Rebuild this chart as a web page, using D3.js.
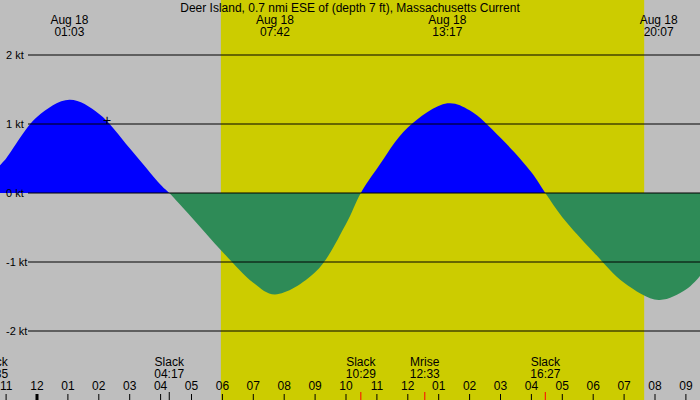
<!DOCTYPE html><html><head><script src="https://d3js.org/d3.v7.min.js"></script>
<style>body{margin:0}svg{display:block;font-family:"Liberation Sans",Arial,sans-serif}</style></head><body><svg id="c" width="700" height="400"></svg>
<script>
const hours=[-1.2,-1,0,1.05,2,3,4,4.28,5,6,7,7.7,9,10,10.48,11,12,13.28,14,15,16,16.45,17,18,19,20.12,21,21.46];
const knots=[0.4,0.5,1.1,1.35,1.15,0.65,0.12,0,-0.35,-0.85,-1.3,-1.47,-1.15,-0.45,0,0.35,0.95,1.3,1.2,0.8,0.3,0,-0.35,-0.85,-1.3,-1.55,-1.4,-1.2];
const yTicks=[2,1,0,-1,-2];
const hourLabels=["11","12","01","02","03","04","05","06","07","08","09","10","11","12","01","02","03","04","05","06","07","08","09"];
const topEvents=[{h:1.05,d:"Aug 18",t:"01:03"},{h:7.7,d:"Aug 18",t:"07:42"},{h:13.28,d:"Aug 18",t:"13:17"},{h:20.12,d:"Aug 18",t:"20:07"}];
const bottomEvents=[{h:-1.42,n:"Slack",t:"22:35",c:"#000"},{h:4.28,n:"Slack",t:"04:17",c:"#000"},{h:10.48,n:"Slack",t:"10:29",c:"red"},{h:12.55,n:"Mrise",t:"12:33",c:"red"},{h:16.45,n:"Slack",t:"16:27",c:"red"}];
const day=[5.95,19.65];
const svg=d3.select("#c");
const x=d3.scaleLinear().domain([0,1]).range([37,67.9]);
const y=d3.scaleLinear().domain([0,1]).range([193,124]);
svg.append("rect").attr("width",700).attr("height",400).attr("fill","#bebebe");
svg.append("rect").attr("x",x(day[0])).attr("y",0).attr("width",x(day[1])-x(day[0])).attr("height",400).attr("fill","#cccc00");
const pts=hours.map((h,i)=>[h,knots[i]]);
const defs=svg.append("defs");
defs.append("clipPath").attr("id","pos").append("rect").attr("x",0).attr("y",0).attr("width",700).attr("height",y(0));
defs.append("clipPath").attr("id","neg").append("rect").attr("x",0).attr("y",y(0)).attr("width",700).attr("height",400);
const area=d3.area().x(d=>x(d[0])).y0(y(0)).y1(d=>y(d[1])).curve(d3.curveCatmullRom);
svg.append("path").attr("d",area(pts)).attr("fill","#0000ff").attr("clip-path","url(#pos)");
svg.append("path").attr("d",area(pts)).attr("fill","#2e8b57").attr("clip-path","url(#neg)");
yTicks.forEach(v=>{
 svg.append("line").attr("x1",28).attr("x2",700).attr("y1",y(v)).attr("y2",y(v)).attr("stroke","#000");
 svg.append("text").attr("x",6).attr("y",y(v)+4).attr("font-size",11).text(v+" kt");
});
svg.append("text").attr("x",350).attr("y",12).attr("text-anchor","middle").attr("font-size",12).text("Deer Island, 0.7 nmi ESE of (depth 7 ft), Massachusetts Current");
topEvents.forEach(e=>{
 svg.append("text").attr("x",x(e.h)).attr("y",24).attr("text-anchor","middle").attr("font-size",12).text(e.d);
 svg.append("text").attr("x",x(e.h)).attr("y",36).attr("text-anchor","middle").attr("font-size",12).text(e.t);
});
bottomEvents.forEach(e=>{
 svg.append("text").attr("x",x(e.h)).attr("y",366).attr("text-anchor","middle").attr("font-size",12).text(e.n);
 svg.append("text").attr("x",x(e.h)).attr("y",378).attr("text-anchor","middle").attr("font-size",12).text(e.t);
 svg.append("line").attr("x1",x(e.h)).attr("x2",x(e.h)).attr("y1",392).attr("y2",400).attr("stroke",e.c).attr("stroke-width",1);
});
hourLabels.forEach((l,i)=>{
 const h=i-1;
 svg.append("text").attr("x",x(h)).attr("y",390).attr("text-anchor","middle").attr("font-size",12).text(l);
 svg.append("line").attr("x1",x(h)).attr("x2",x(h)).attr("y1",394).attr("y2",400).attr("stroke","#000").attr("stroke-width",h===0?3:1);
});
svg.append("text").attr("x",107).attr("y",125).attr("text-anchor","middle").attr("font-size",14).text("+");
</script></body></html>
